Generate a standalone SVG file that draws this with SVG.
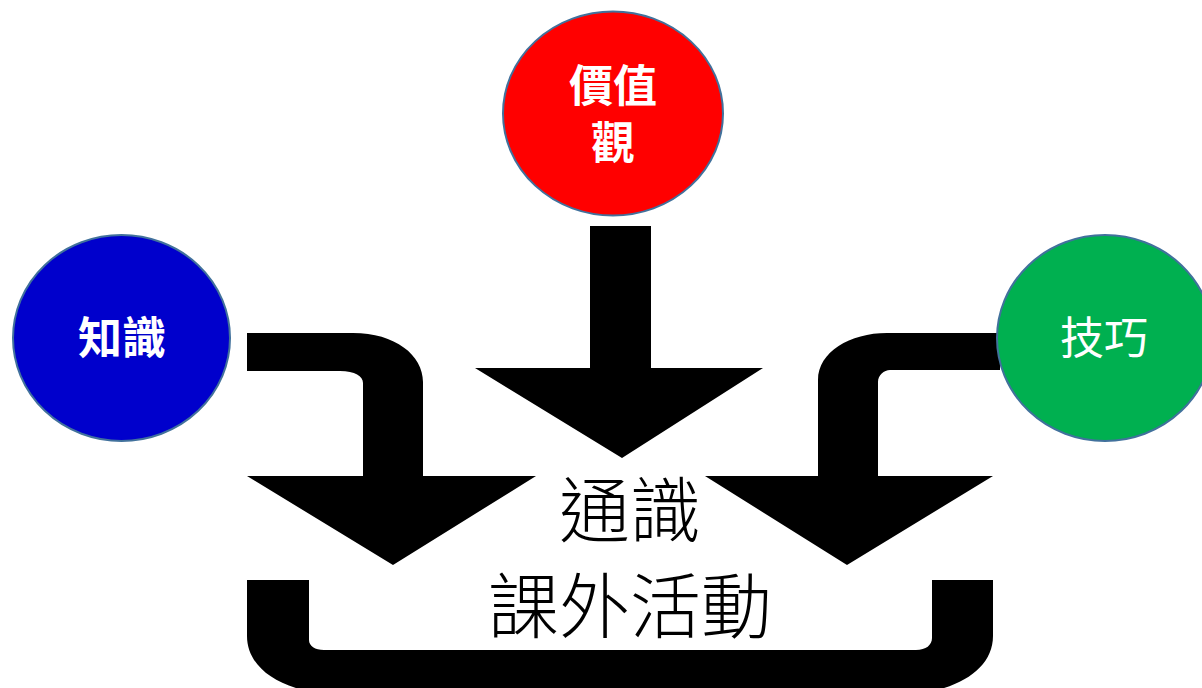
<svg xmlns="http://www.w3.org/2000/svg" width="1202" height="688" viewBox="0 0 1202 688">
<style>
.node{stroke:#41719C;stroke-width:2}
.lbl{font-family:"Noto Sans CJK TC","Noto Sans CJK SC",sans-serif;font-size:44px;fill:#fff;text-anchor:middle}
.main{font-family:"Noto Sans CJK TC","Noto Sans CJK SC",sans-serif;font-size:71px;font-weight:300;fill:#000;text-anchor:middle}
.arrow{fill:#000}
</style>
<rect width="1202" height="688" fill="#fff"/>
<g id="connectors">
<path class="arrow" d="M247,333 L353,333 C395,333 423,355 423,382 L423,476 L536,476 L393,565 L247,476 L363,476 L363,383 C363,376 355,371 340,371 L247,371 Z"/>
<path class="arrow" d="M590,226 L651,226 L651,368 L763,368 L622,458 L475,368 L590,368 Z"/>
<path class="arrow" d="M1000,333 L887,333 C850,333 818,352 818,380 L818,476 L705,476 L847,565 L993,476 L878,476 L878,382 C878,375 884,370 890,370 L1000,370 Z"/>
<path class="arrow" d="M247,580 L309,580 L309,640 C309,646 315,650 324,650 L916,650 C926,650 932,645 932,638 L932,580 L993,580 L993,636 C993,668 960,690 912,694 L328,694 C280,690 247,668 247,636 Z"/>
</g>
<g id="node-knowledge">
<ellipse class="node" cx="121.5" cy="338" rx="108.5" ry="103" fill="#0000CC"/>
<text class="lbl" x="122" y="354" font-weight="bold">知識</text>
</g>
<g id="node-values">
<ellipse class="node" cx="613" cy="113.5" rx="110" ry="102" fill="#FF0000"/>
<text class="lbl" x="613" y="102" font-weight="bold">價值</text>
<text class="lbl" x="613" y="159" font-weight="bold">觀</text>
</g>
<g id="node-skills">
<ellipse class="node" cx="1105" cy="338" rx="108" ry="103" fill="#00B050"/>
<text class="lbl" x="1104" y="354">技巧</text>
</g>
<g id="node-center">
<text class="main" x="630" y="536">通識</text>
<text class="main" x="630" y="632">課外活動</text>
</g>
</svg>
